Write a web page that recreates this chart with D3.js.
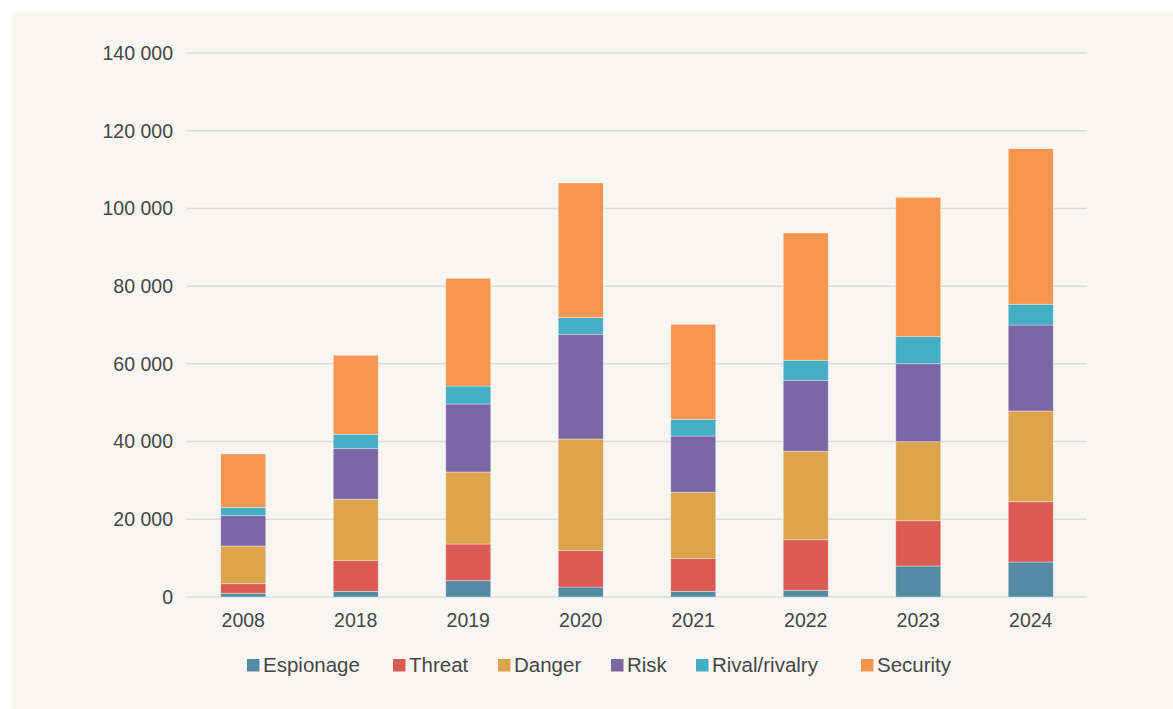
<!DOCTYPE html>
<html>
<head>
<meta charset="utf-8">
<script src="https://cdn.jsdelivr.net/npm/d3@7"></script>
<style>
  html, body { margin: 0; padding: 0; background: #ffffff; }
  svg { display: block; }
  text { font-family: "Liberation Sans", Arial, sans-serif; fill: #474747; }
</style>
</head>
<body>
<svg id="chart" width="1173" height="709"></svg>
<script>
// Years on the x axis
const years = ['2008', '2018', '2019', '2020', '2021', '2022', '2023', '2024'];

// Series, bottom to top
const seriesNames = ['Espionage', 'Threat', 'Danger', 'Risk', 'Rival/rivalry', 'Security'];
const seriesColors = ['#548ba4', '#db5a52', '#dca44c', '#7c67a5', '#43aec4', '#f7964f'];

// Values
const espionage = [950, 1470, 4200, 2570, 1470, 1720, 7980, 9010];
const threat    = [2470, 7870, 9440, 9350, 8490, 13020, 11650, 15510];
const danger    = [9700, 15800, 18530, 28750, 16990, 22760, 20330, 23350];
const risk      = [7800, 13030, 17500, 26950, 14480, 18270, 20080, 22130];
const rival     = [2160, 3700, 4630, 4270, 4300, 5150, 6960, 5330];
const security  = [13720, 20330, 27720, 34660, 24450, 32760, 35860, 40040];

const yTicks = [0, 20000, 40000, 60000, 80000, 100000, 120000, 140000];

// Build rows for the stack
const seriesValues = [espionage, threat, danger, risk, rival, security];
const rows = years.map((y, i) => {
  const row = { year: y };
  seriesNames.forEach((s, j) => { row[s] = seriesValues[j][i]; });
  return row;
});

const svg = d3.select('#chart');

// Light panel behind the chart
svg.append('rect')
  .attr('x', 12).attr('y', 12)
  .attr('width', 1161).attr('height', 697)
  .attr('fill', '#f7f6f2');

const plot = { left: 187, right: 1087, top: 53, bottom: 597 };

const x = d3.scaleBand()
  .domain(years)
  .range([plot.left, plot.right])
  .paddingInner(0.6)
  .paddingOuter(0.3);

const y = d3.scaleLinear()
  .domain([0, 140000])
  .range([plot.bottom, plot.top]);

const color = d3.scaleOrdinal().domain(seriesNames).range(seriesColors);

// Gridlines
svg.append('g')
  .selectAll('line')
  .data(yTicks)
  .enter().append('line')
  .attr('x1', plot.left).attr('x2', plot.right)
  .attr('y1', d => y(d)).attr('y2', d => y(d))
  .style('stroke', '#dcdcdc')
  .style('stroke-width', 1.5);

// Y axis labels (space as thousands separator)
const fmt = d => d3.format(',')(d).replace(/,/g, ' ');
svg.append('g')
  .selectAll('text')
  .data(yTicks)
  .enter().append('text')
  .attr('x', 173)
  .attr('y', d => y(d))
  .attr('dy', '0.35em')
  .attr('text-anchor', 'end')
  .style('font-size', '19.5px')
  .text(fmt);

// X axis labels
svg.append('g')
  .selectAll('text')
  .data(years)
  .enter().append('text')
  .attr('x', d => x(d) + x.bandwidth() / 2)
  .attr('y', 627)
  .attr('text-anchor', 'middle')
  .style('font-size', '19.5px')
  .text(d => d);

// Stacked bars
const stacked = d3.stack().keys(seriesNames)(rows);

svg.append('g')
  .selectAll('g')
  .data(stacked)
  .enter().append('g')
  .attr('fill', d => color(d.key))
  .selectAll('rect')
  .data(d => d)
  .enter().append('rect')
  .attr('x', d => x(d.data.year))
  .attr('width', x.bandwidth())
  .attr('y', d => y(d[1]))
  .attr('height', d => y(d[0]) - y(d[1]))
  .style('stroke', '#ffffff')
  .style('stroke-opacity', 0.45)
  .style('stroke-width', 0.8);

// Legend
const legendX = [247, 393, 498, 611, 696, 861];
const legend = svg.append('g')
  .selectAll('g')
  .data(seriesNames)
  .enter().append('g')
  .attr('transform', (d, i) => `translate(${legendX[i]}, 0)`);

legend.append('rect')
  .attr('x', 0).attr('y', 659)
  .attr('width', 12.5).attr('height', 12.5)
  .attr('fill', d => color(d));

legend.append('text')
  .attr('x', 16)
  .attr('y', 672)
  .style('font-size', '20.5px')
  .text(d => d);
</script>
</body>
</html>
